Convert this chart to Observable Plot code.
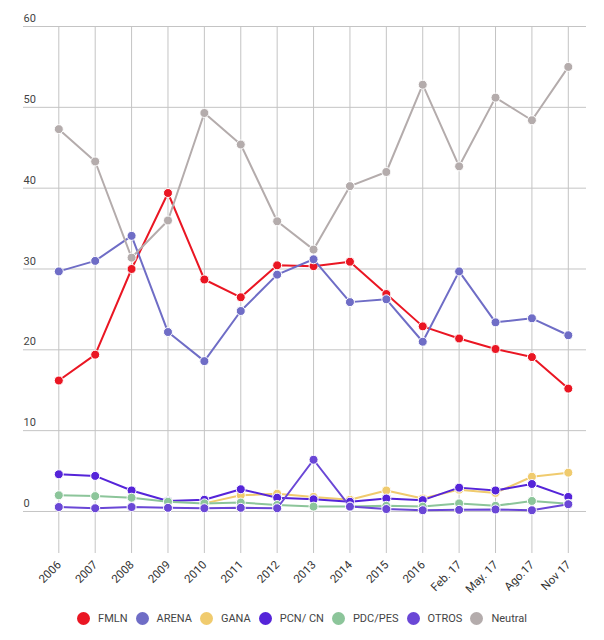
<!DOCTYPE html>
<html>
<head>
<meta charset="utf-8">
<script src="https://cdn.jsdelivr.net/npm/d3@7"></script>
<script src="https://cdn.jsdelivr.net/npm/@observablehq/plot@0.6"></script>
<style>
  html, body { margin: 0; padding: 0; background: #fff; }
  body { width: 604px; height: 640px; overflow: hidden; font-family: Roboto, "Noto Sans", sans-serif; }
  #legend { display: flex; justify-content: center; align-items: center; height: 16px; margin-top: 10px; font-size: 11px; color: #444; padding-left: 8px; }
  .item { display: flex; align-items: center; margin-right: 8px; }
  .sw { width: 13px; height: 13px; border-radius: 50%; margin-right: 8px; }
</style>
</head>
<body>
<div id="chart"></div>
<div id="legend"></div>
<script>
const categories = ["2006","2007","2008","2009","2010","2011","2012","2013","2014","2015","2016","Feb. 17","May. 17","Ago.17","Nov 17"];
const seriesNames = ["FMLN","ARENA","GANA","PCN/ CN","PDC/PES","OTROS","Neutral"];
const seriesColors = ["#ea1623","#6f6dc6","#f0cb6e","#5524d9","#8cc59a","#6a47d6","#b4acac"];

const FMLN    = [16.2, 19.4, 30.0, 39.4, 28.7, 26.5, 30.45, 30.35, 30.9, 26.9, 22.9, 21.4, 20.1, 19.1, 15.2];
const ARENA   = [29.7, 31.0, 34.1, 22.2, 18.6, 24.8, 29.3, 31.2, 25.9, 26.25, 21.0, 29.7, 23.4, 23.9, 21.8];
const GANA    = [null, null, null, null, 1.0, 2.0, 2.2, 1.8, 1.45, 2.6, 1.6, 2.7, 2.3, 4.3, 4.8];
const PCN     = [4.6, 4.4, 2.6, 1.3, 1.45, 2.75, 1.7, 1.5, 1.2, 1.6, 1.4, 2.95, 2.6, 3.4, 1.8];
const PDC     = [2.0, 1.9, 1.7, 1.2, 1.0, 1.1, 0.8, 0.6, 0.6, 0.7, 0.6, 1.0, 0.7, 1.3, 0.95];
const OTROS   = [0.55, 0.4, 0.55, 0.45, 0.4, 0.45, 0.4, 6.4, 0.6, 0.3, 0.15, 0.2, 0.25, 0.15, 0.9];
const Neutral = [47.3, 43.3, 31.4, 36.0, 49.3, 45.4, 35.9, 32.4, 40.25, 42.0, 52.8, 42.7, 51.2, 48.4, 55.0];
const yTicks = [0, 10, 20, 30, 40, 50, 60];

const seriesValues = [FMLN, ARENA, GANA, PCN, PDC, OTROS, Neutral];
const rows = [];
seriesNames.forEach((s, k) => {
  seriesValues[k].forEach((v, i) => rows.push({series: s, i, cat: categories[i], value: v}));
});
const idx = categories.map((_, i) => i);

const marks = [
  Plot.ruleY(yTicks, {stroke: "#c4c4c4", strokeWidth: 1}),
  Plot.ruleX(idx, {stroke: "#c4c4c4", strokeWidth: 1}),
  Plot.text(yTicks, {y: d => d, text: d => String(d), frameAnchor: "left", textAnchor: "start", dy: -8, fontSize: 11, fill: "#444"}),
  Plot.text(idx, {x: d => d, text: d => categories[d], frameAnchor: "bottom", textAnchor: "end", rotate: -45, dx: 3, dy: 12, fontSize: 11.5, fill: "#333"})
];
seriesNames.forEach((s, k) => {
  const data = rows.filter(r => r.series === s);
  marks.push(Plot.line(data, {x: "i", y: "value", stroke: seriesColors[k], strokeWidth: 2, defined: d => d.value != null}));
  marks.push(Plot.dot(data.filter(d => d.value != null), {x: "i", y: "value", r: 4.5, fill: seriesColors[k], stroke: "#fff", strokeWidth: 1}));
});

const chart = Plot.plot({
  width: 604,
  height: 600,
  marginTop: 26,
  marginBottom: 47,
  marginLeft: 23,
  marginRight: 18,
  x: {type: "linear", domain: [-0.97, 14.5], axis: null},
  y: {domain: [-5.2, 60], axis: null},
  style: {fontFamily: "Roboto, 'Noto Sans', sans-serif", background: "#fff"},
  marks
});
document.getElementById("chart").appendChild(chart);

const legend = document.getElementById("legend");
seriesNames.forEach((s, k) => {
  const it = document.createElement("div");
  it.className = "item";
  const sw = document.createElement("span");
  sw.className = "sw";
  sw.style.background = seriesColors[k];
  const t = document.createElement("span");
  t.textContent = s;
  it.appendChild(sw);
  it.appendChild(t);
  legend.appendChild(it);
});
</script>
</body>
</html>
